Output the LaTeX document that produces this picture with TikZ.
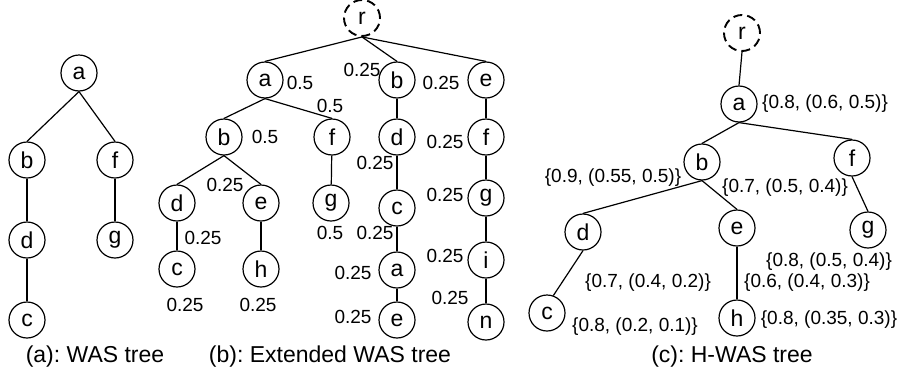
\documentclass[tikz,border=0pt]{standalone}
\usepackage{fontspec}
\setmainfont{Liberation Sans}
\frenchspacing
\begin{document}
\begin{tikzpicture}[x=1pt,y=-1pt,
  vtx/.style={circle,draw,line width=1.2pt,minimum size=36pt,inner sep=0pt,
              font=\fontsize{23}{23}\selectfont},
  rootvtx/.style={vtx,line width=1.9pt,dash pattern=on 9pt off 5pt},
  lbl/.style={inner sep=0pt,font=\fontsize{19}{19}\selectfont},
  captext/.style={inner sep=0pt,font=\fontsize{23}{23}\selectfont},
  link/.style={line width=1.2pt}]
\useasboundingbox (0,0) rectangle (901,378);

% ---------- (a) WAS tree ----------
\node[vtx] (a1) at (79,73)  {a};
\node[vtx] (b1) at (27,160) {b};
\node[vtx] (f1) at (115,160) {f};
\node[vtx] (d1) at (27,240) {d};
\node[vtx] (g1) at (115,240) {g};
\node[vtx] (c1) at (27,320) {c};
\draw[link] (a1.south) -- (b1.north);
\draw[link] (a1.south) -- (f1.north);
\draw[link] (b1) -- (d1);
\draw[link] (d1) -- (c1);
\draw[link] (f1) -- (g1);
\node[captext] (capa) at (95,357) {(a): WAS tree};

% ---------- (b) Extended WAS tree ----------
\node[rootvtx] (r2) at (362,18) {r};
% left subtree
\node[vtx] (a2) at (265,80)  {a};
\node[vtx] (b2) at (224,137) {b};
\node[vtx] (f2) at (332,137) {f};
\node[vtx] (d2) at (177,203) {d};
\node[vtx] (e2) at (261,203) {e};
\node[vtx] (g2) at (331,203) {g};
\node[vtx] (c2) at (177,269) {c};
\node[vtx] (h2) at (261,269) {h};
% middle chain
\node[vtx] (bm) at (397,80)  {b};
\node[vtx] (dm) at (397,137) {d};
\node[vtx] (cm) at (397,208) {c};
\node[vtx] (am) at (397,270) {a};
\node[vtx] (em) at (397,320) {e};
% right chain
\node[vtx] (er) at (486,80)  {e};
\node[vtx] (fr) at (486,137) {f};
\node[vtx] (gr) at (486,198) {g};
\node[vtx] (ir) at (486,260) {i};
\node[vtx] (nr) at (486,322) {n};

\draw[link] (r2.south) -- (a2.north);
\draw[link] (r2.south) -- (bm.north);
\draw[link] (r2.south) -- (er.north);
\draw[link] (a2.south) -- (b2.north);
\draw[link] (a2.south) -- (f2.north);
\draw[link] (b2.south) -- (d2.north);
\draw[link] (b2.south) -- (e2.north);
\draw[link] (d2) -- (c2);
\draw[link] (e2) -- (h2);
\draw[link] (f2) -- (g2);
\draw[link] (bm) -- (dm);
\draw[link] (dm) -- (cm);
\draw[link] (cm) -- (am);
\draw[link] (am) -- (em);
\draw[link] (er) -- (fr);
\draw[link] (fr) -- (gr);
\draw[link] (gr) -- (ir);
\draw[link] (ir) -- (nr);

\node[lbl] (w1)  at (300,83)  {0.5};
\node[lbl] (w2)  at (330,106) {0.5};
\node[lbl] (w3)  at (265,137) {0.5};
\node[lbl] (w4)  at (225,185) {0.25};
\node[lbl] (w5)  at (203,238) {0.25};
\node[lbl] (w6)  at (330,233) {0.5};
\node[lbl] (w7)  at (185,305) {0.25};
\node[lbl] (w8)  at (258,305) {0.25};
\node[lbl] (w9)  at (362,70)  {0.25};
\node[lbl] (w10) at (375,163) {0.25};
\node[lbl] (w11) at (375,233) {0.25};
\node[lbl] (w12) at (353,273) {0.25};
\node[lbl] (w13) at (353,317) {0.25};
\node[lbl] (w14) at (441,83)  {0.25};
\node[lbl] (w15) at (445,142) {0.25};
\node[lbl] (w16) at (445,195) {0.25};
\node[lbl] (w17) at (445,256) {0.25};
\node[lbl] (w18) at (450,298) {0.25};
\node[captext] (capb) at (330,357) {(b): Extended WAS tree};

% ---------- (c) H-WAS tree ----------
\node[rootvtx] (r3) at (742,33) {r};
\node[vtx] (a3) at (739,104) {a};
\node[vtx] (b3) at (702,162) {b};
\node[vtx] (f3) at (852,158) {f};
\node[vtx] (d3) at (583,232) {d};
\node[vtx] (e3) at (737,228) {e};
\node[vtx] (g3) at (868,230) {g};
\node[vtx] (c3) at (547,313) {c};
\node[vtx] (h3) at (737,318) {h};

\draw[link] (r3.south) -- (a3.north);
\draw[link] (a3.south) -- (b3.north);
\draw[link] (a3.south) -- (f3.north);
\draw[link] (b3.south) -- (d3.north);
\draw[link] (b3.south) -- (e3.north);
\draw[link] (f3.south) -- (g3.north);
\draw[link] (d3.south) -- (c3.70);
\draw[link] (e3) -- (h3);

\node[lbl] (t1) at (825,104) {\{0.8, (0.6, 0.5)\}};
\node[lbl] (t2) at (613,178) {\{0.9, (0.55, 0.5)\}};
\node[lbl] (t3) at (785,188) {\{0.7, (0.5, 0.4)\}};
\node[lbl] (t4) at (829,262) {\{0.8, (0.5, 0.4)\}};
\node[lbl] (t5) at (807,283) {\{0.6, (0.4, 0.3)\}};
\node[lbl] (t6) at (648,283) {\{0.7, (0.4, 0.2)\}};
\node[lbl] (t7) at (635,327) {\{0.8, (0.2, 0.1)\}};
\node[lbl] (t8) at (829,320) {\{0.8, (0.35, 0.3)\}};
\node[captext] (capc) at (732,357) {(c): H-WAS tree};
\end{tikzpicture}
\end{document}
